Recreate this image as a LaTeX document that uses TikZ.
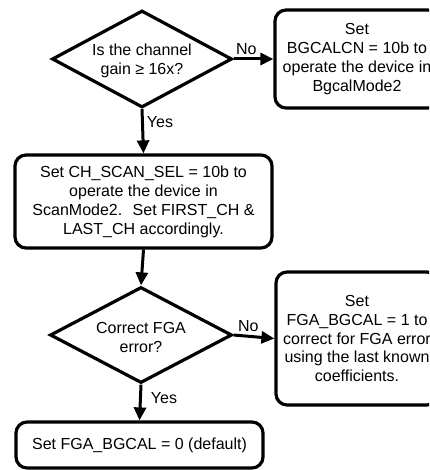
\documentclass[tikz,border=0pt]{standalone}
\usepackage{fontspec}
\setmainfont{Liberation Sans}
\usetikzlibrary{shapes.geometric,arrows.meta}
\tikzset{
  every node/.style={font=\fontsize{16}{19}\selectfont},
  procbox/.style={draw, line width=3.2pt, rounded corners=11pt, inner sep=0pt, align=center, fill=white},
  decision/.style={draw, diamond, line width=3.2pt, inner sep=0pt, fill=white},
  flow/.style={line width=3pt, -{Triangle[length=13pt,width=12pt]}},
  lbl/.style={inner sep=3pt}
}
\begin{document}
\begin{tikzpicture}[x=1pt,y=-1pt]
\clip (0,0) rectangle (429,470);
\fill[white] (0,0) rectangle (429,470);
% decisions
\node[decision, minimum width=180pt, minimum height=97pt,
      label={[align=center, yshift=-2pt]center:Is the channel\\gain ≥ 16x?}] (d1) at (142,59) {};
\node[decision, minimum width=182pt, minimum height=96pt,
      label={[align=center, yshift=-2pt]center:Correct FGA\\error?}] (d2) at (141,335) {};
% boxes
\node[procbox, minimum width=164pt, minimum height=98pt] (b1) at (357,59)
  {Set\\BGCALCN = 10b to\\operate the device in\\BgcalMode2};
\node[procbox, minimum width=257pt, minimum height=93pt] (b2) at (143.5,201.5)
  {Set CH\_SCAN\_SEL = 10b to\\operate the device in\\ScanMode2.~ Set FIRST\_CH \&\\LAST\_CH accordingly.};
\node[procbox, minimum width=162pt, minimum height=133pt, font=\fontsize{16}{18.7}\selectfont] (b3) at (357,338.5)
  {Set\\FGA\_BGCAL = 1 to\\correct for FGA error\\using the last known\\coefficients.};
\node[procbox, minimum width=247pt, minimum height=46pt] (b4) at (139.5,445)
  {Set FGA\_BGCAL = 0 (default)};
% connectors
\draw[flow] (d1.east) -- node[lbl, above, pos=0.32] (no1) {No} (b1.west);
\draw[flow] (d1.south) -- node[lbl, right, pos=0.3] (yes1) {Yes} (b2.north);
\draw[flow] (b2.south) -- (d2.north);
\draw[flow] (d2.east) -- node[lbl, above, pos=0.36] (no2) {No} (b3.west);
\draw[flow] (d2.south) -- node[lbl, right, pos=0.38, xshift=6pt] (yes2) {Yes} (b4.north);
\end{tikzpicture}
\end{document}
